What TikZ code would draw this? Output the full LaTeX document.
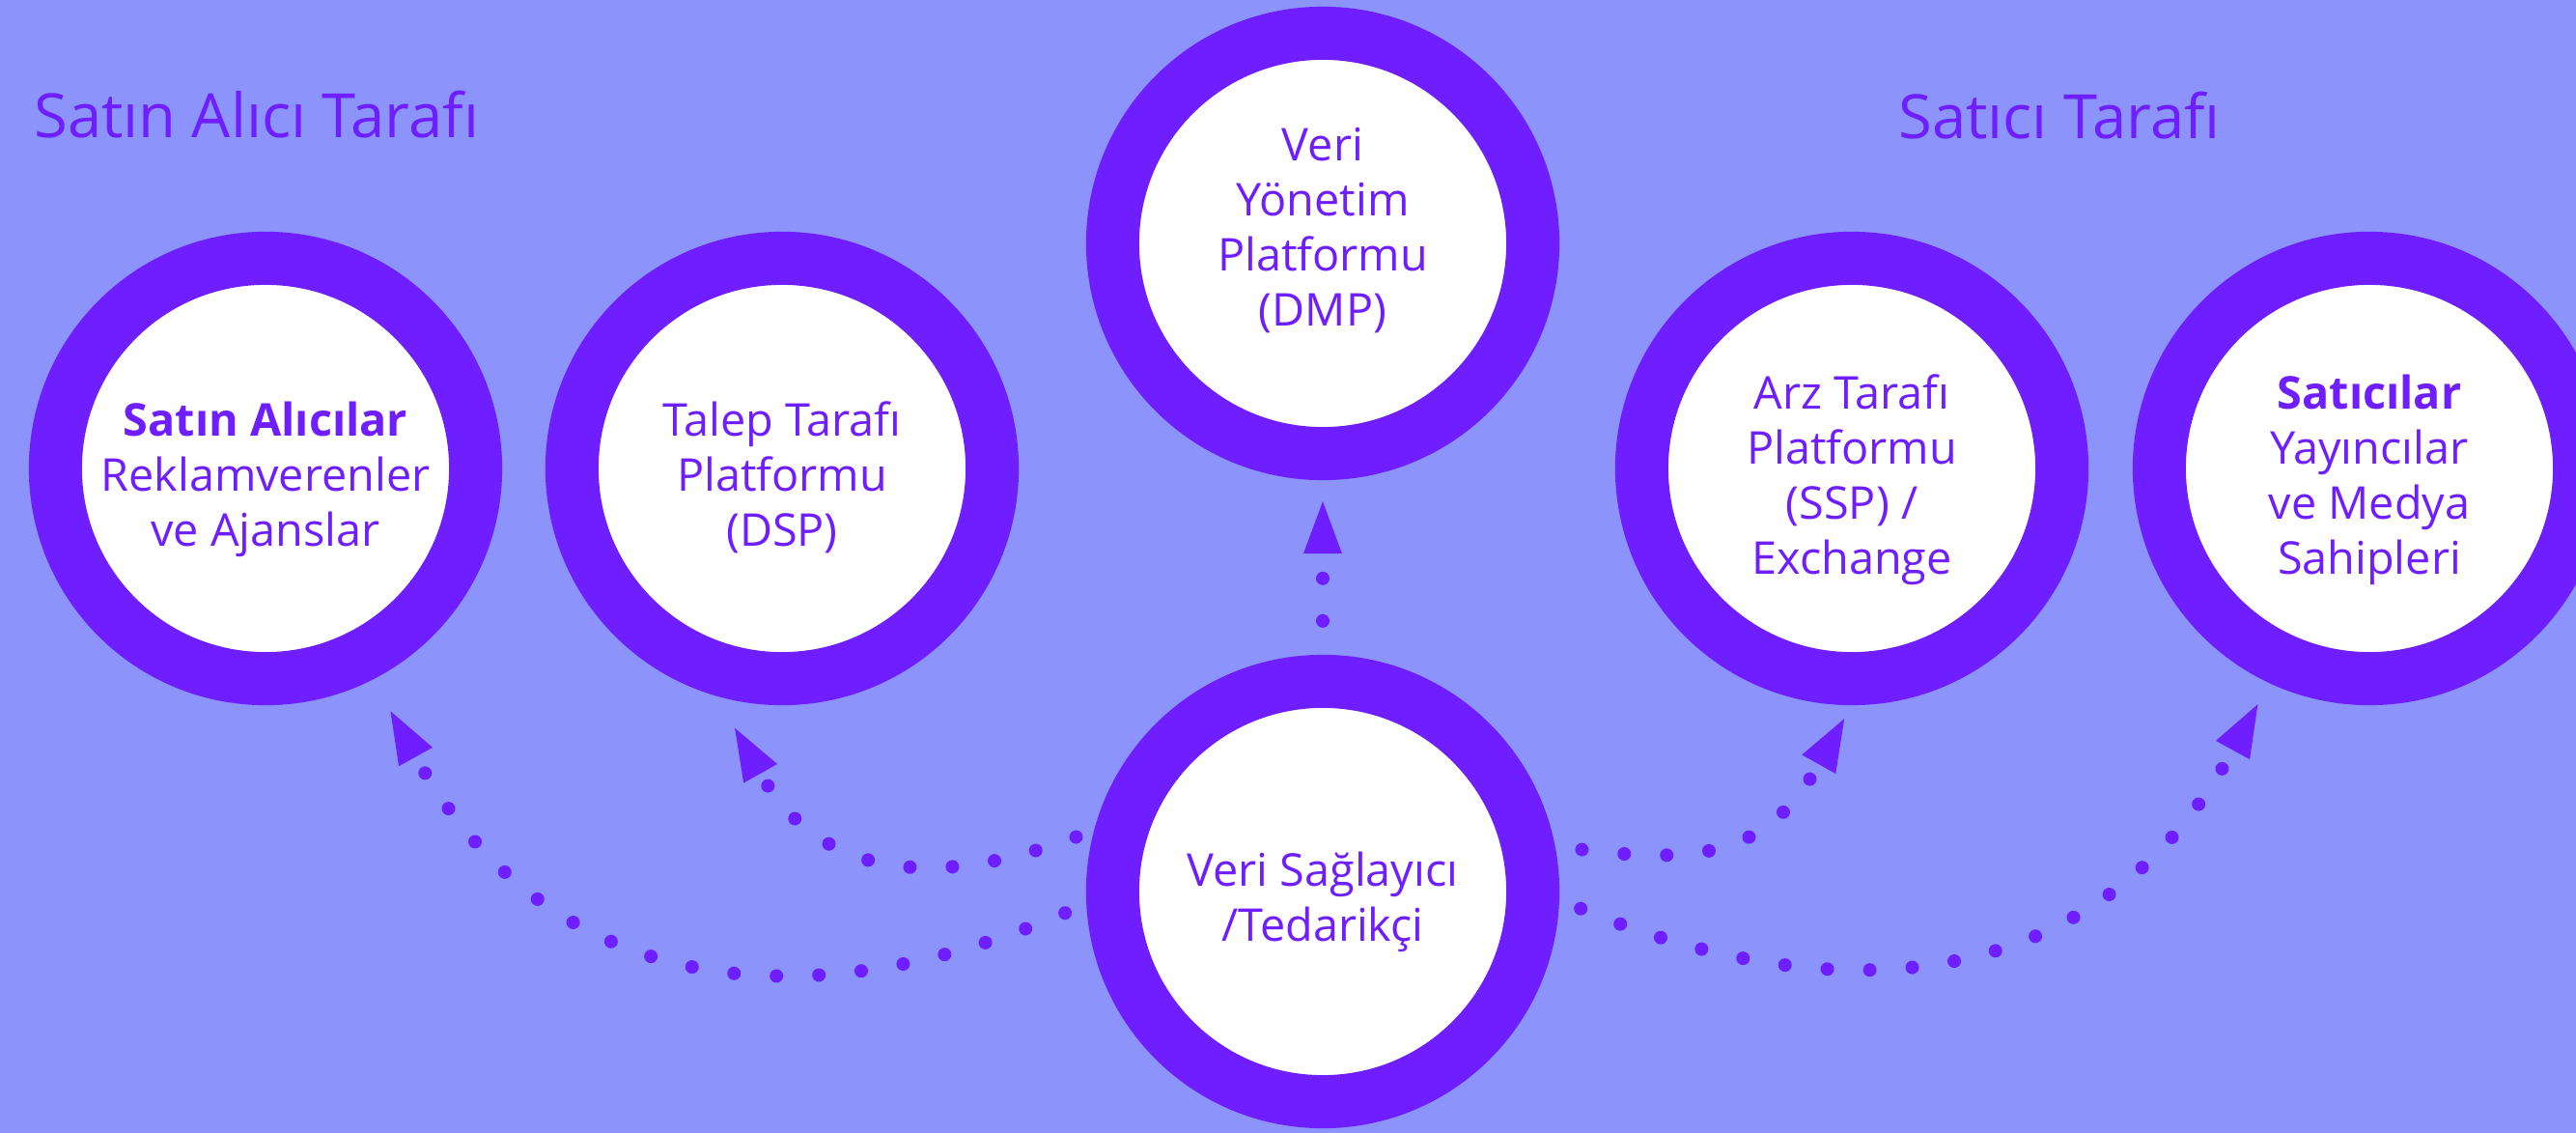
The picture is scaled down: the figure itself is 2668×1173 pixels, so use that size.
\documentclass[tikz,border=0pt]{standalone}
\usepackage{fontspec}
\setmainfont{Open Sans}
\usepackage{tikz}
\usetikzlibrary{arrows.meta}
\definecolor{adbg}{HTML}{8C94FC}
\definecolor{adpurple}{HTML}{6F1EFF}

\begin{document}
\begin{tikzpicture}[
    x=0.01cm, y=-0.01cm,
    every node/.style={font=\fontsize{13.3}{16.2}\selectfont, text=adpurple},
    party/.style={
      circle, draw=adpurple, fill=white,
      line width=0.55cm, minimum size=4.35cm,
      inner sep=0pt, align=center, text depth=0pt},
    side/.style={font=\fontsize{18}{22}\selectfont, anchor=base west},
    flow/.style={
      draw=adpurple, line width=0.14cm, line cap=round,
      dash pattern=on 0pt off 0.44cm,
      -{Triangle[length=0.54cm, width=0.40cm, line width=0pt]}}
  ]
    \useasboundingbox (0,0) rectangle (2668,1173);
    \clip (0,0) rectangle (2668,1173);
    \fill[adbg] (0,0) rectangle (2668,1173);

    \node[side] (buyside) at (23,143) {Satın Alıcı Tarafı};
    \node[side] (sellside) at (1954,144) {Satıcı Tarafı};

    \node[party, text height=46pt] (buyer) at (275,485)
      {\textbf{Satın Alıcılar}\\Reklamverenler\\ve Ajanslar};
    \node[party, text height=46pt] (dsp) at (810,485)
      {Talep Tarafı\\Platformu\\(DSP)};
    \node[party, text depth=10pt] (dmp) at (1370,252)
      {Veri\\Yönetim\\Platformu\\(DMP)};
    \node[party, text height=29.5pt] (provider) at (1370,923)
      {Veri Sağlayıcı\\/Tedarikçi};
    \node[party, text height=62pt] (ssp) at (1918,485)
      {Arz Tarafı\\Platformu\\(SSP) /\\Exchange};
    \node[party, text height=62pt] (seller) at (2454,485)
      {\textbf{Satıcılar}\\Yayıncılar\\ve Medya\\Sahipleri};

    \draw[flow, shorten <=0.35cm, shorten >=0.22cm] (provider.north) -- (dmp.south);
    \draw[flow, shorten <=0.24cm, shorten >=0.375cm]
      (provider.183) .. controls +(-304,129) and +(178,322) .. (buyer.-63);
    \draw[flow, shorten <=0.2cm, shorten >=0.38cm]
      (provider.165) .. controls +(-188,70) and +(98,174) .. (dsp.-106);
    \draw[flow, shorten <=0.28cm, shorten >=0.16cm]
      (provider.11) .. controls +(148,18) and +(-88,157) .. (ssp.south);
    \draw[flow, shorten <=0.24cm, shorten >=0.25cm]
      (provider.-2) .. controls +(285,118) and +(-178,326) .. (seller.-115);
\end{tikzpicture}
\end{document}
